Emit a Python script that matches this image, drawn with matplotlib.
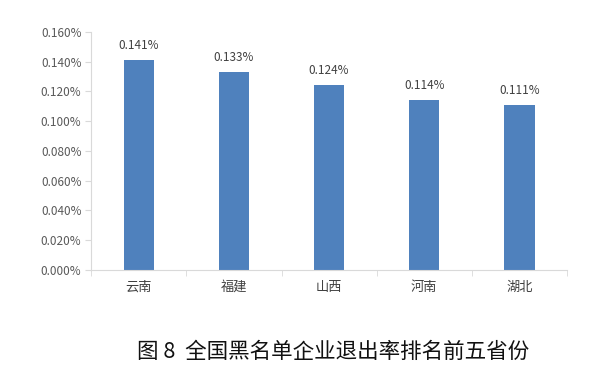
import matplotlib
matplotlib.use("Agg")
import matplotlib.pyplot as plt
import numpy as np

categories = ["云南", "福建", "山西", "河南", "湖北"]
values = [0.141, 0.133, 0.124, 0.114, 0.111]
labels = ["0.141%", "0.133%", "0.124%", "0.114%", "0.111%"]
yticks = [0.0, 0.02, 0.04, 0.06, 0.08, 0.10, 0.12, 0.14, 0.16]

plt.rcParams['font.family'] = ['Noto Sans CJK SC', 'DejaVu Sans']

fig = plt.figure(figsize=(6, 3.75), dpi=100)
ax = fig.add_axes([0.152, 0.28, 0.793, 0.635])
x = np.arange(len(categories))
ax.bar(x, values, width=0.32, color="#4F81BD")
for xi, v, l in zip(x, values, labels):
    ax.text(xi, v + 0.0055, l, ha="center", va="bottom", fontsize=8.5, color="#404040")

ax.set_xlim(-0.5, len(categories) - 0.5)
ax.set_ylim(0, 0.16)
ax.set_yticks(yticks)
ax.set_yticklabels([f"{t:.3f}%" for t in yticks], fontsize=8.5, color="#595959")
ax.set_xticks(x)
ax.set_xticklabels(categories, fontsize=9.5, color="#404040")
ax.set_xticks(np.arange(len(categories) + 1) - 0.5, minor=True)
ax.tick_params(axis="x", which="major", length=0, pad=8)
ax.tick_params(axis="x", which="minor", length=4, color="#D9D9D9", direction="out")
ax.tick_params(axis="y", length=4, color="#D9D9D9", pad=3)
for s in ["top", "right"]:
    ax.spines[s].set_visible(False)
for s in ["left", "bottom"]:
    ax.spines[s].set_color("#D9D9D9")
    ax.spines[s].set_linewidth(0.8)

fig.text(0.555, 0.061, "图 8  全国黑名单企业退出率排名前五省份", ha="center", va="center",
         fontsize=15.5, color="#111111")
fig.savefig("out.png", dpi=100)
